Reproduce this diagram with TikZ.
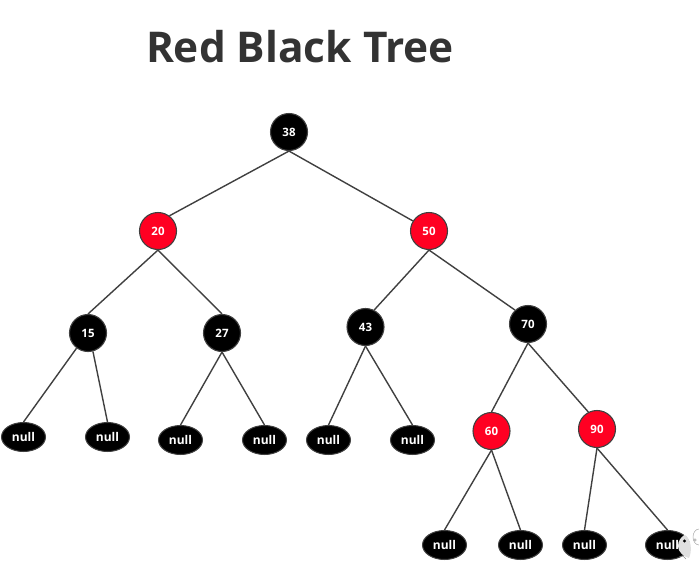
\documentclass[tikz,border=0pt]{standalone}
\usepackage{fontspec}
\setmainfont{Open Sans}
\usetikzlibrary{shapes.geometric}
\definecolor{edgegray}{HTML}{404040}
\definecolor{treered}{HTML}{FF0022}
\definecolor{titlegray}{HTML}{333333}
\tikzset{
  blacknode/.style={circle,fill=black,draw=edgegray,line width=1.1pt,minimum size=37pt,inner sep=0pt,text=white,font=\fontsize{11.5}{11.5}\selectfont\bfseries},
  rednode/.style={blacknode,fill=treered},
  nullnode/.style={ellipse,fill=black,draw=edgegray,line width=1pt,minimum width=44pt,minimum height=29pt,inner sep=0pt,text=white,font=\fontsize{12}{12}\selectfont\bfseries},
  link/.style={draw=edgegray,line width=1.4pt},
}
\begin{document}
\begin{tikzpicture}[x=1pt,y=-1pt]
\useasboundingbox (0,0) rectangle (699,571);
\node[text=titlegray,font=\fontsize{42.4}{43}\selectfont\bfseries] (title) at (300,47) {Red Black Tree};
\node[blacknode] (n38) at (289,132) {38};
\node[rednode] (n20) at (158,231) {20};
\node[rednode] (n50) at (429,231) {50};
\node[blacknode] (n15) at (88,333) {15};
\node[blacknode] (n27) at (222,333) {27};
\node[blacknode] (n43) at (365.5,327) {43};
\node[blacknode] (n70) at (528,324) {70};
\node[rednode] (n60) at (491.5,431) {60};
\node[rednode] (n90) at (597,429) {90};
\node[nullnode] (a) at (23.5,437) {null};
\node[nullnode] (b) at (107.5,437) {null};
\node[nullnode] (c) at (180.5,440) {null};
\node[nullnode] (d) at (264.5,440) {null};
\node[nullnode] (e) at (328.5,440) {null};
\node[nullnode] (f) at (412.5,440) {null};
\node[nullnode] (g) at (444.5,545) {null};
\node[nullnode] (h) at (520.5,545) {null};
\node[nullnode] (i) at (584.5,545) {null};
\node[nullnode] (j) at (667.5,545) {null};
\draw[link] (n38.south) -- (n20.53);
\draw[link] (n38.south) -- (n50.148);
\draw[link] (n20.south) -- (n15.north);
\draw[link] (n20.south) -- (n27.north);
\draw[link] (n50.south) -- (n43.63);
\draw[link] (n50.south) -- (n70.133);
\draw[link] (n15.233) -- (a.north);
\draw[link] (n15.285) -- (b.north);
\draw[link] (n27.south) -- (c.north);
\draw[link] (n27.south) -- (d.north);
\draw[link] (n43.south) -- (e.north);
\draw[link] (n43.south) -- (f.north);
\draw[link] (n70.south) -- (n60.north);
\draw[link] (n70.south) -- (n90.117);
\draw[link] (n60.south) -- (g.north);
\draw[link] (n60.south) -- (h.north);
\draw[link] (n90.south) -- (i.north);
\draw[link] (n90.south) -- (j.north);
% watermark fish at the corner
\fill[black!12] (684.5,535) .. controls (692,539) and (692,552) .. (689,558)
  .. controls (684,557) and (678,552) .. (678,546)
  .. controls (678,541) and (681,537) .. (684.5,535) -- cycle;
\fill[black] (684.5,541) circle (1.7);
\draw[black!45,line width=.5pt] (679,557) -- (683,556) -- (686,559);
\draw[black!35,line width=.5pt] (699,545) arc (90:270:6 and 8);
\draw[black!35,line width=.5pt] (695,540) circle (1.2);
\end{tikzpicture}
\end{document}
